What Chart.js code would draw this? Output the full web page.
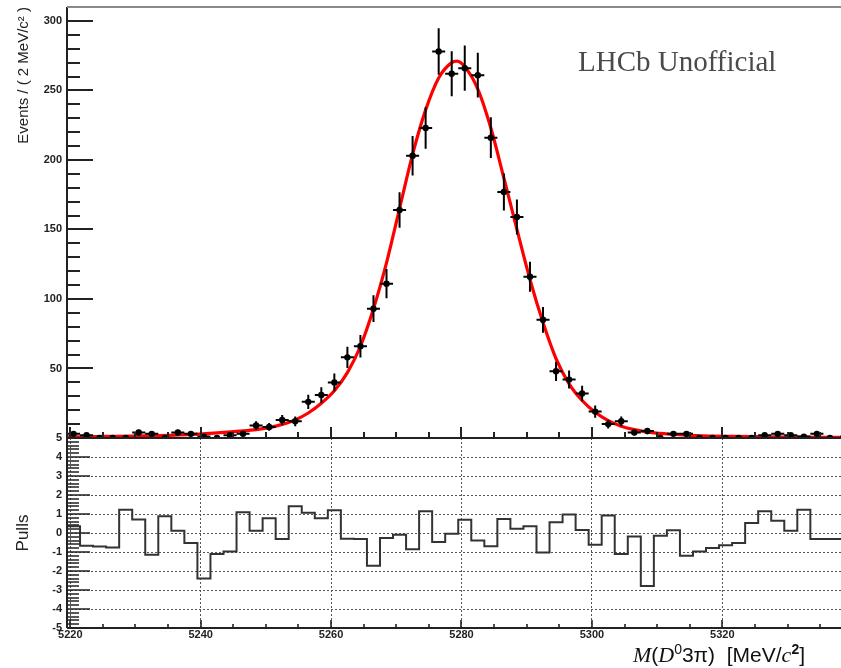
<!DOCTYPE html>
<html><head><meta charset="utf-8">
<script src="https://cdn.jsdelivr.net/npm/chart.js@4.4.0/dist/chart.umd.min.js"></script>
<style>
html,body{margin:0;padding:0;background:#fff;}
#wrap{position:relative;width:841px;height:668px;overflow:hidden;background:#fff;}
canvas{position:absolute;left:0;top:0;}
</style></head><body>
<div id="wrap"><canvas id="pulls" width="841" height="668"></canvas><canvas id="main" width="841" height="668"></canvas></div>
<script>
// ---- data ----
const binCenters = [5220.5,5222.5,5224.5,5226.5,5228.5,5230.5,5232.5,5234.5,5236.5,5238.5,
  5240.5,5242.5,5244.5,5246.5,5248.5,5250.5,5252.5,5254.5,5256.5,5258.5,
  5260.5,5262.5,5264.5,5266.5,5268.5,5270.5,5272.5,5274.5,5276.5,5278.5,
  5280.5,5282.5,5284.5,5286.5,5288.5,5290.5,5292.5,5294.5,5296.5,5298.5,
  5300.5,5302.5,5304.5,5306.5,5308.5,5310.5,5312.5,5314.5,5316.5,5318.5,
  5320.5,5322.5,5324.5,5326.5,5328.5,5330.5,5332.5,5334.5,5336.5,5338.5];
const binWidth = 2;
const eventCounts = [3,2,0,0,0,4,3,0,4,3,
  1,0,2,3,9,8,13,12,26,31,
  40,58,66,93,111,164,203,223,278,262,
  266,261,216,177,159,116,85,48,42,32,
  19,10,12,4,5,0,3,3,0,0,
  0,0,0,2,3,2,1,3,0,0];
const pullValues = [1.0,0.35,-0.67,-0.71,-0.76,1.23,0.71,-1.15,0.88,0.12,
  -0.53,-2.4,-1.11,-0.97,1.09,0.12,0.78,-0.32,1.41,1.06,
  0.78,1.2,-0.3,-0.32,-1.73,-0.26,-0.09,-0.85,1.15,-0.48,
  -0.04,0.7,-0.39,-0.7,0.74,0.23,0.35,-1.02,0.56,0.97,
  0.16,-0.62,0.92,-1.11,-0.18,-2.79,-0.14,0.14,-1.2,-0.97,
  -0.79,-0.65,-0.53,0.53,1.15,0.65,0.12,1.23,-0.32,-0.32];
const fitMass = [5219.5,5226,5232,5238,5242,5246,5248.5,5250.5,5252.5,5254.5,5256.5,5258.5,
  5260.5,5262.5,5264.5,5266.5,5268.5,5270.5,5272.5,5274.5,5276.5,5278.5,5279.3,5280.5,
  5282.5,5284.5,5286.5,5288.5,5290.5,5292.5,5294.5,5296.5,5298.5,5300.5,5302.5,5304.5,
  5306.5,5309,5312,5316,5322,5330,5338.3];
const fitEvents = [0.8,1.1,1.5,2.4,3.5,4.9,6.0,7.5,9.8,13,18,25,
  34,47,66,93,126,165,204,236,259,270,271,267,
  251,223,187,150,114,83,57,39,27,18.5,12.5,8.5,
  6,4,2.7,1.7,1.1,0.7,0.5];
const xRange = [5219.5, 5338.2];
const xTickLabels = [5220,5240,5260,5280,5300,5320];
const yTickLabels = [50,100,150,200,250,300];
const yRange = [0, 310];
const pullTickLabels = [-5,-4,-3,-2,-1,0,1,2,3,4,5];
const pullRange = [-5, 5];

// minor tick positions (axis decoration)
const seq = (a,b,s) => { const r=[]; for(let v=a; v<=b+1e-9; v+=s) r.push(Math.round(v*100)/100); return r; };
const xMinorTicks = seq(5220, 5335, 5);
const yMinorTicks = seq(0, 310, 10);
const pullMinorTicks = seq(-5, 5, 0.2);

const halfBin = binWidth/2;
const FONT = '"Liberation Sans", Arial, sans-serif';

// ---- plugins ----
const rootFrame = {
  id:'rootFrame',
  afterDraw(chart, args, o){
    const {ctx, chartArea:a, scales} = chart;
    const xs = scales.x, ys = scales.y;
    ctx.save();
    ctx.strokeStyle = '#222';
    ctx.lineWidth = o.tickWidth;
    ctx.beginPath();
    o.yMajor.forEach(v=>{const p=Math.round(ys.getPixelForValue(v)); ctx.moveTo(a.left,p); ctx.lineTo(a.left+o.yMajorLen,p);});
    o.yMinor.forEach(v=>{const p=Math.round(ys.getPixelForValue(v)); ctx.moveTo(a.left,p); ctx.lineTo(a.left+o.yMinorLen,p);});
    o.xMajor.forEach(v=>{const p=Math.round(xs.getPixelForValue(v)); ctx.moveTo(p,a.bottom); ctx.lineTo(p,a.bottom-o.xMajorLen);});
    o.xMinor.forEach(v=>{const p=Math.round(xs.getPixelForValue(v)); ctx.moveTo(p,a.bottom); ctx.lineTo(p,a.bottom-o.xMinorLen);});
    ctx.stroke();
    ctx.lineWidth = 2;
    ctx.strokeStyle = '#222';
    ctx.beginPath();
    ctx.moveTo(a.left, a.top); ctx.lineTo(a.left, a.bottom);
    ctx.moveTo(a.left, a.bottom); ctx.lineTo(a.right, a.bottom);
    ctx.stroke();
    if (o.topLine) {
      ctx.strokeStyle = '#8a8a8a';
      ctx.beginPath(); ctx.moveTo(a.left, a.top); ctx.lineTo(a.right, a.top); ctx.stroke();
    }
    ctx.restore();
  }
};

const errorBars = {
  id:'errorBars',
  beforeDatasetDraw(chart, args){
    if (args.index !== 0) return;
    const {ctx, chartArea:a, scales:{x,y}} = chart;
    ctx.save();
    ctx.beginPath(); ctx.rect(a.left, a.top, a.right-a.left, a.bottom-a.top); ctx.clip();
    ctx.strokeStyle = '#000'; ctx.lineWidth = 2;
    ctx.beginPath();
    binCenters.forEach((c,i)=>{
      const n = eventCounts[i];
      const e = n>0 ? Math.sqrt(n) : 1.15;
      const px = x.getPixelForValue(c), py = y.getPixelForValue(n);
      ctx.moveTo(x.getPixelForValue(c-halfBin), py); ctx.lineTo(x.getPixelForValue(c+halfBin), py);
      ctx.moveTo(px, y.getPixelForValue(Math.max(0,n-e))); ctx.lineTo(px, y.getPixelForValue(n+e));
    });
    ctx.stroke();
    ctx.restore();
  }
};

const labelText = {
  id:'labelText',
  afterDraw(chart, args, o){
    if (!o.show) return;
    const ctx = chart.ctx;
    ctx.save();
    ctx.fillStyle = '#4a4a4a';
    ctx.font = '29px "Liberation Serif", serif';
    ctx.textBaseline = 'alphabetic';
    ctx.fillText('LHCb Unofficial', 578, 71);
    ctx.restore();
  }
};

const axisTitleX = {
  id:'axisTitleX',
  afterDraw(chart, args, o){
    if (!o.show) return;
    const ctx = chart.ctx;
    const big = 21, small = 14, rise = 8;
    const serifI = s=>'italic '+s+'px "Liberation Serif", serif';
    const sans = s=>s+'px '+FONT;
    const parts = [
      ['M', serifI(big+1), 0], ['(', sans(big), 0], ['D', serifI(big+1), 0], ['0', sans(small), rise],
      ['3\u03c0)', sans(big), 0], ['  [MeV/', sans(big), 0], ['c', serifI(big+1), 0], ['2', 'bold '+sans(small), rise], [']', sans(big), 0]
    ];
    ctx.save();
    let w = 0;
    parts.forEach(p=>{ctx.font=p[1]; w += ctx.measureText(p[0]).width;});
    let x = 805 - w; const base = 662;
    ctx.fillStyle = '#111';
    ctx.textBaseline = 'alphabetic';
    parts.forEach(p=>{ctx.font=p[1]; ctx.fillText(p[0], x, base-p[2]); x += ctx.measureText(p[0]).width;});
    ctx.restore();
  }
};

const plainLabel = v => String(v);
const fitY = s => { s.width = 67; s.paddingTop = 0; s.paddingBottom = 0; };

// ---- main (top) panel ----
new Chart(document.getElementById('main'), {
  type:'scatter',
  data:{datasets:[
    {label:'data', data: binCenters.map((c,i)=>({x:c, y:eventCounts[i]})),
     pointRadius:3.2, pointBackgroundColor:'#000', pointBorderColor:'#000', pointBorderWidth:0, showLine:false},
    {type:'line', label:'fit', data: fitMass.map((m,i)=>({x:m, y:fitEvents[i]})),
     borderColor:'#ff0000', borderWidth:3.2, pointRadius:0, cubicInterpolationMode:'monotone', fill:false}
  ]},
  options:{
    animation:false, responsive:false, devicePixelRatio:1,
    layout:{autoPadding:false, padding:{top:7, right:0, bottom:230, left:0}},
    plugins:{legend:{display:false}, tooltip:{enabled:false},
      rootFrame:{tickWidth:2, yMajor:yTickLabels, yMinor:yMinorTicks, yMajorLen:26, yMinorLen:13,
        xMajor:xTickLabels, xMinor:xMinorTicks, xMajorLen:11, xMinorLen:6, topLine:true},
      labelText:{show:true}},
    scales:{
      x:{type:'linear', display:false, min:xRange[0], max:xRange[1]},
      y:{type:'linear', min:yRange[0], max:yRange[1],
        afterBuildTicks:s=>{ s.ticks = yTickLabels.map(v=>({value:v})); },
        afterFit:fitY,
        grid:{display:false, drawTicks:false}, border:{display:false},
        ticks:{padding:5, color:'#222', callback:plainLabel, font:{family:FONT, size:11, weight:'bold'}},
        title:{display:true, text:'Events / ( 2 MeV/c\u00b2 )', align:'end', color:'#222',
          font:{family:FONT, size:15}, padding:{top:15, bottom:0}}}
    }
  },
  plugins:[errorBars, rootFrame, labelText]
});

// ---- pulls (bottom) panel ----
const pullSteps = binCenters.map((c,i)=>({x:c-halfBin, y:pullValues[i]}));
pullSteps.push({x:binCenters[binCenters.length-1]+halfBin, y:pullValues[pullValues.length-1]});

new Chart(document.getElementById('pulls'), {
  type:'scatter',
  data:{datasets:[
    {type:'line', label:'pulls', data:pullSteps, stepped:'after', borderColor:'#333', borderWidth:2,
     pointRadius:0, fill:false}
  ]},
  options:{
    animation:false, responsive:false, devicePixelRatio:1,
    layout:{autoPadding:false, padding:{top:438, right:0, bottom:0, left:0}},
    plugins:{legend:{display:false}, tooltip:{enabled:false},
      rootFrame:{tickWidth:1.6, yMajor:pullTickLabels, yMinor:pullMinorTicks, yMajorLen:23, yMinorLen:12,
        xMajor:xTickLabels, xMinor:xMinorTicks, xMajorLen:8, xMinorLen:4, topLine:false},
      axisTitleX:{show:true}},
    scales:{
      x:{type:'linear', min:xRange[0], max:xRange[1],
        afterBuildTicks:s=>{ s.ticks = xTickLabels.map(v=>({value:v})); },
        afterFit:s=>{ s.height = 40; s.paddingLeft = 0; s.paddingRight = 0; },
        grid:{display:true, drawTicks:false, color:'#555', lineWidth:1},
        border:{display:false, dash:[2,2]},
        ticks:{padding:0, color:'#222', callback:plainLabel, font:{family:FONT, size:11, weight:'bold'}, maxRotation:0}},
      y:{type:'linear', min:pullRange[0], max:pullRange[1],
        afterBuildTicks:s=>{ s.ticks = pullTickLabels.map(v=>({value:v})); },
        afterFit:fitY,
        grid:{display:true, drawTicks:false, lineWidth:1,
          color:c=> (c.tick && Math.abs(c.tick.value)===5) ? 'rgba(0,0,0,0)' : '#555'},
        border:{display:false, dash:[2,2]},
        ticks:{padding:5, color:'#222', callback:plainLabel, font:{family:FONT, size:11, weight:'bold'}},
        title:{display:true, text:'Pulls', align:'center', color:'#222',
          font:{family:FONT, size:17}, padding:{top:13, bottom:0}}}
    }
  },
  plugins:[rootFrame, axisTitleX]
});
</script>
</body></html>
